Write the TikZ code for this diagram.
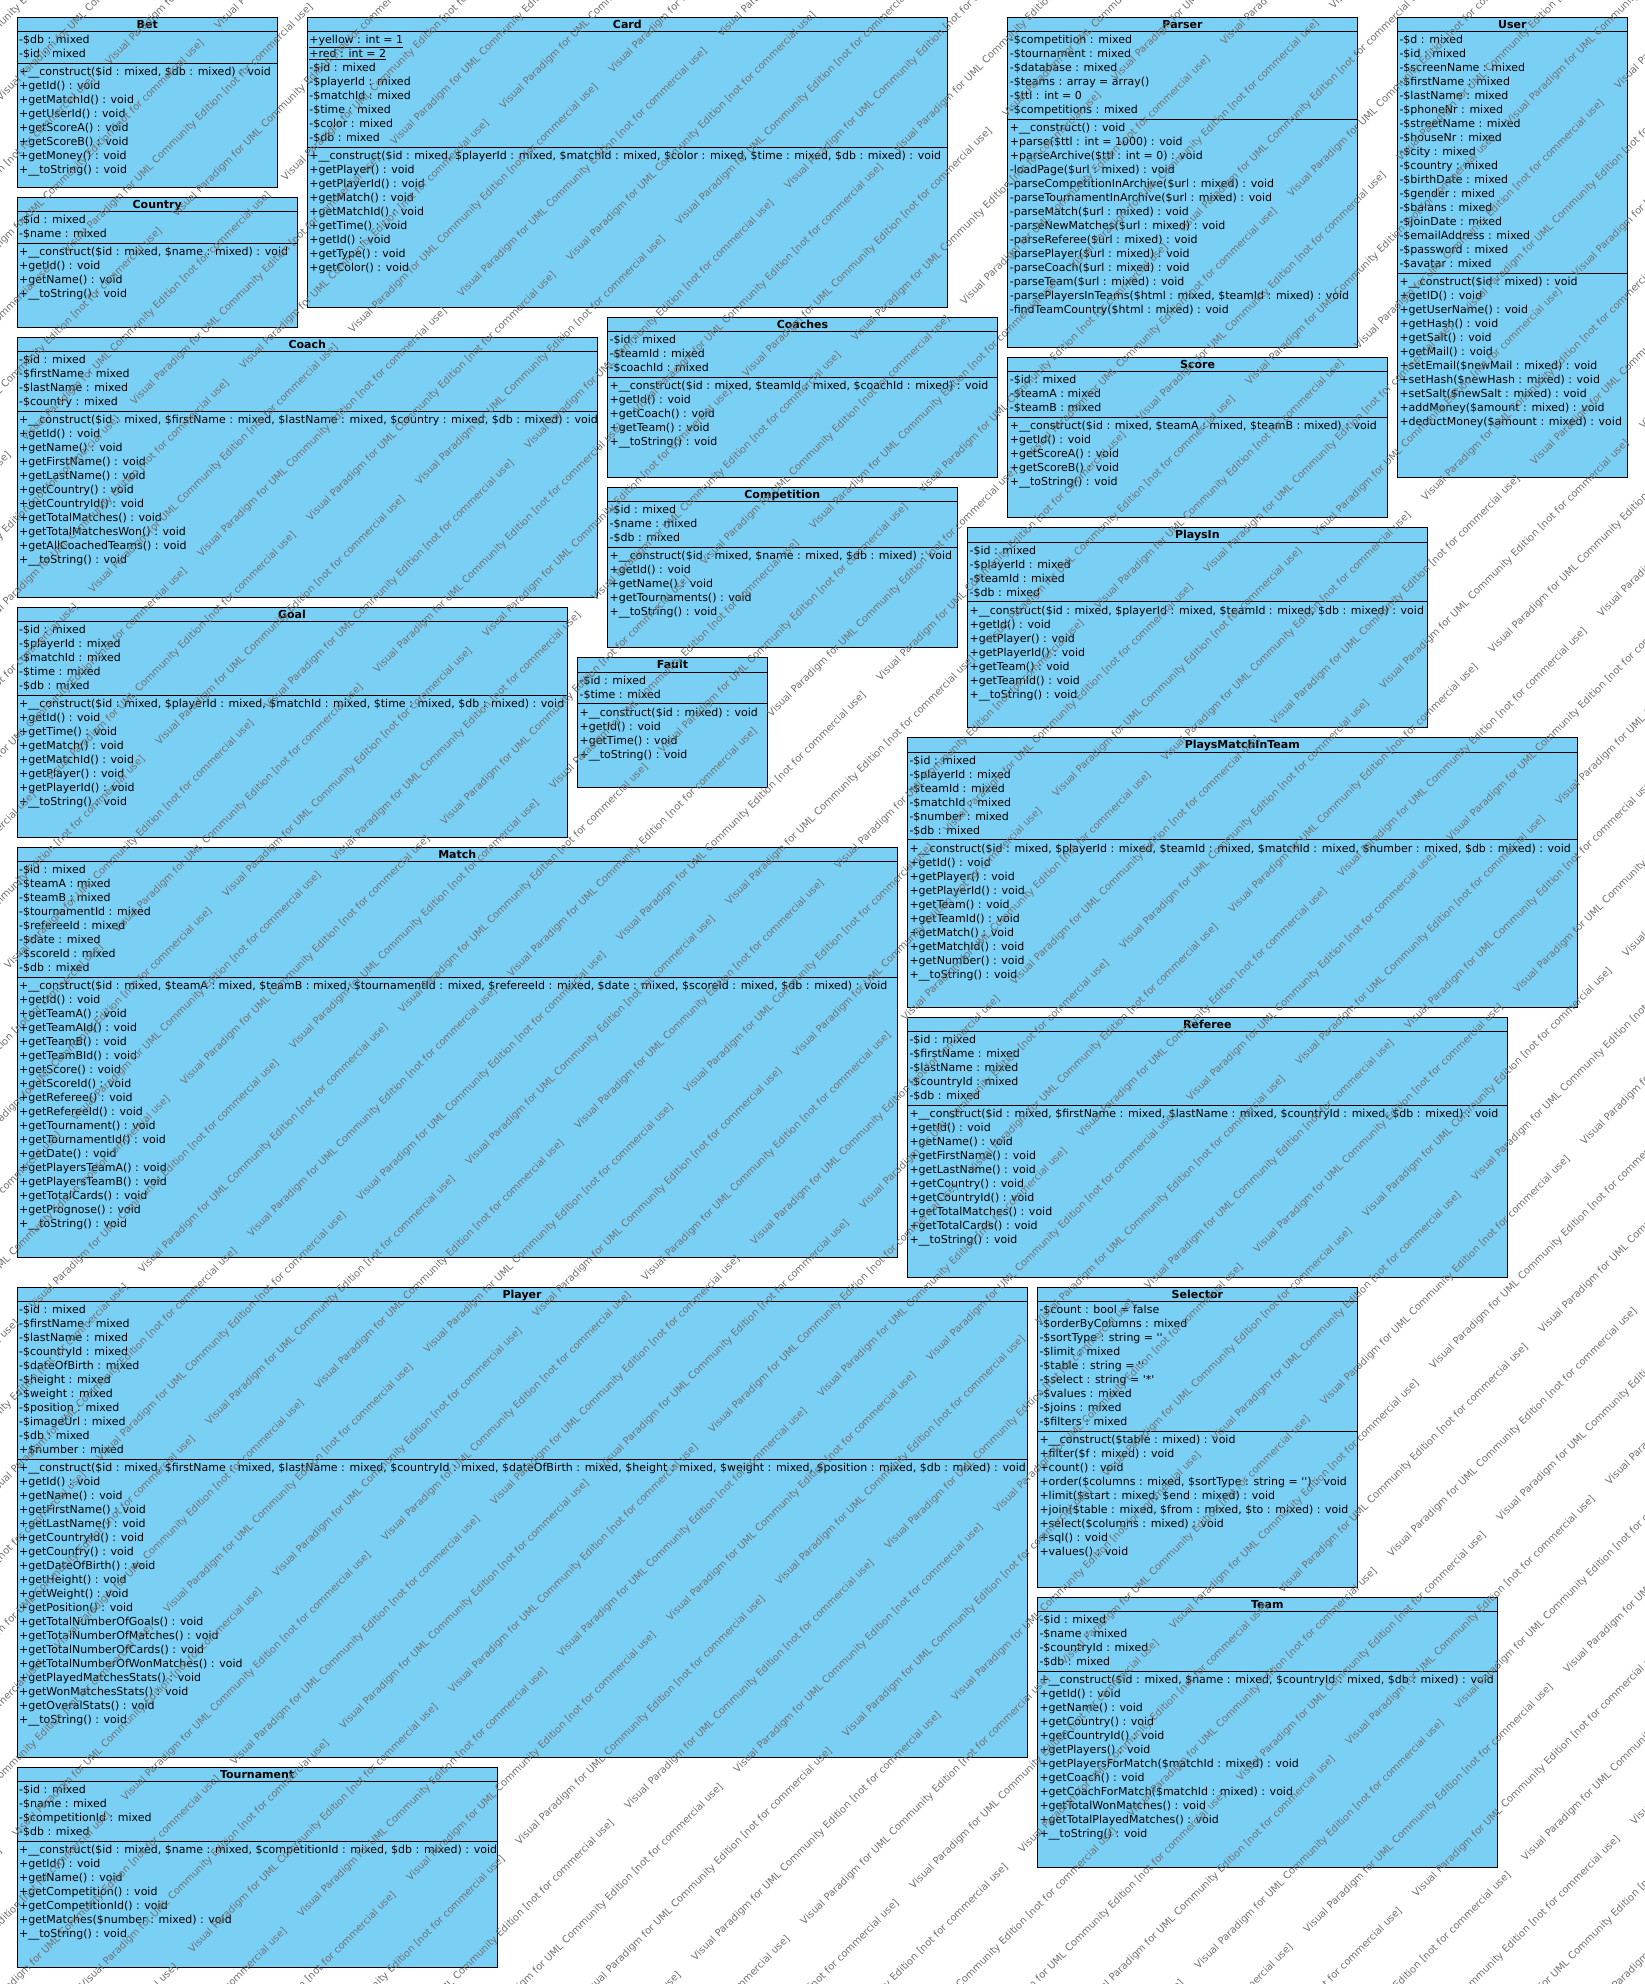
\documentclass[tikz,border=0pt]{standalone}
\usepackage{fontspec}
\setmainfont{DejaVu Sans}
\setmonofont{DejaVu Sans}
\definecolor{vpblue}{RGB}{122,207,245}
\definecolor{wmgray}{RGB}{112,112,112}
\tikzset{
  classbox/.style={draw=black, fill=vpblue, line width=1pt, inner sep=0pt, outer sep=0pt},
  clstitle/.style={font=\fontsize{11}{13}\selectfont\bfseries, inner sep=0pt, anchor=base},
  member/.style={font=\fontsize{11}{13}\selectfont, inner sep=0pt, anchor=base west},
  sepline/.style={draw=black, line width=1pt},
  wm/.style={font=\fontsize{10}{11}\selectfont, text=wmgray, rotate=45, inner sep=0pt}
}
\newcommand\wmtext{Visual Paradigm for UML Community Edition [not for commercial use]}
% #1 name, #2 left, #3 top, #4 right, #5 bottom, #6 number of attributes, #7 attributes, #8 operations
\newcommand\umlclass[8]{%
  \pgfmathsetmacro\ucw{#4-#2}%
  \pgfmathsetmacro\uch{#5-#3}%
  \pgfmathsetmacro\umid{(#2+#4)/2}%
  \pgfmathsetmacro\usy{#3+17.7+14*#6}%
  \node[classbox, anchor=north west, minimum width=\ucw pt, minimum height=\uch pt] (#1) at (#2,#3) {};
  \node[clstitle] (#1-title) at (\umid,#3+11.2) {#1};
  \draw[sepline] (#2,#3+14.4) -- (#4,#3+14.4);
  \draw[sepline] (#2,\usy) -- (#4,\usy);
  \foreach \mtext [count=\i] in {#7} {
    \node[member] (#1-a\i) at (#2+2,#3+12.4+14*\i) {\mtext};
  }
  \foreach \mtext [count=\i] in {#8} {
    \node[member] (#1-o\i) at (#2+2,#3+16.4+14*#6+14*\i) {\mtext};
  }
}
\begin{document}
\begin{tikzpicture}[x=1pt,y=-1pt]
\useasboundingbox (0,0) rectangle (1644,1984);
\fill[white] (0,0) rectangle (1644,1984);

\umlclass{Bet}{17}{17.3}{277.5}{187.3}{2}
{{-\$db : mixed},{-\$id : mixed}}
{{+\_\_construct(\$id : mixed, \$db : mixed) : void},{+getId() : void},{+getMatchId() : void},{+getUserId() : void},{+getScoreA() : void},{+getScoreB() : void},{+getMoney() : void},{+\_\_toString() : void}}

\umlclass{Card}{307.2}{17.3}{947.5}{307}{8}
{{\underline{+yellow : int = 1}},{\underline{+red : int = 2}},{-\$id : mixed},{-\$playerId : mixed},{-\$matchId : mixed},{-\$time : mixed},{-\$color : mixed},{-\$db : mixed}}
{{+\_\_construct(\$id : mixed, \$playerId : mixed, \$matchId : mixed, \$color : mixed, \$time : mixed, \$db : mixed) : void},{+getPlayer() : void},{+getPlayerId() : void},{+getMatch() : void},{+getMatchId() : void},{+getTime() : void},{+getId() : void},{+getType() : void},{+getColor() : void}}

\umlclass{Parser}{1007.6}{17.3}{1357.4}{347}{6}
{{-\$competition : mixed},{-\$tournament : mixed},{-\$database : mixed},{-\$teams : array = array()},{-\$ttl : int = 0},{-\$competitions : mixed}}
{{+\_\_construct() : void},{+parse(\$ttl : int = 1000) : void},{+parseArchive(\$ttl : int = 0) : void},{-loadPage(\$url : mixed) : void},{-parseCompetitionInArchive(\$url : mixed) : void},{-parseTournamentInArchive(\$url : mixed) : void},{-parseMatch(\$url : mixed) : void},{-parseNewMatches(\$url : mixed) : void},{-parseReferee(\$url : mixed) : void},{-parsePlayer(\$url : mixed) : void},{-parseCoach(\$url : mixed) : void},{-parseTeam(\$url : mixed) : void},{-parsePlayersInTeams(\$html : mixed, \$teamId : mixed) : void},{-findTeamCountry(\$html : mixed) : void}}

\umlclass{User}{1397.3}{17.3}{1627.2}{477}{17}
{{-\$d : mixed},{-\$id : mixed},{-\$screenName : mixed},{-\$firstName : mixed},{-\$lastName : mixed},{-\$phoneNr : mixed},{-\$streetName : mixed},{-\$houseNr : mixed},{-\$city : mixed},{-\$country : mixed},{-\$birthDate : mixed},{-\$gender : mixed},{-\$balans : mixed},{-\$joinDate : mixed},{-\$emailAddress : mixed},{-\$password : mixed},{-\$avatar : mixed}}
{{+\_\_construct(\$id : mixed) : void},{+getID() : void},{+getUserName() : void},{+getHash() : void},{+getSalt() : void},{+getMail() : void},{+setEmail(\$newMail : mixed) : void},{+setHash(\$newHash : mixed) : void},{+setSalt(\$newSalt : mixed) : void},{+addMoney(\$amount : mixed) : void},{+deductMoney(\$amount : mixed) : void}}

\umlclass{Country}{17}{197.3}{297.4}{327.3}{2}
{{-\$id : mixed},{-\$name : mixed}}
{{+\_\_construct(\$id : mixed, \$name : mixed) : void},{+getId() : void},{+getName() : void},{+\_\_toString() : void}}

\umlclass{Coach}{17}{337.3}{597.4}{597.3}{4}
{{-\$id : mixed},{-\$firstName : mixed},{-\$lastName : mixed},{-\$country : mixed}}
{{+\_\_construct(\$id : mixed, \$firstName : mixed, \$lastName : mixed, \$country : mixed, \$db : mixed) : void},{+getId() : void},{+getName() : void},{+getFirstName() : void},{+getLastName() : void},{+getCountry() : void},{+getCountryId() : void},{+getTotalMatches() : void},{+getTotalMatchesWon() : void},{+getAllCoachedTeams() : void},{+\_\_toString() : void}}

\umlclass{Coaches}{607.4}{317.3}{997.5}{477}{3}
{{-\$id : mixed},{-\$teamId : mixed},{-\$coachId : mixed}}
{{+\_\_construct(\$id : mixed, \$teamId : mixed, \$coachId : mixed) : void},{+getId() : void},{+getCoach() : void},{+getTeam() : void},{+\_\_toString() : void}}

\umlclass{Competition}{607.4}{487.5}{957.3}{647}{3}
{{-\$id : mixed},{-\$name : mixed},{-\$db : mixed}}
{{+\_\_construct(\$id : mixed, \$name : mixed, \$db : mixed) : void},{+getId() : void},{+getName() : void},{+getTournaments() : void},{+\_\_toString() : void}}

\umlclass{Score}{1007.6}{357.3}{1387.5}{517}{3}
{{-\$id : mixed},{-\$teamA : mixed},{-\$teamB : mixed}}
{{+\_\_construct(\$id : mixed, \$teamA : mixed, \$teamB : mixed) : void},{+getId() : void},{+getScoreA() : void},{+getScoreB() : void},{+\_\_toString() : void}}

\umlclass{PlaysIn}{967.4}{527.7}{1427.3}{727}{4}
{{-\$id : mixed},{-\$playerId : mixed},{-\$teamId : mixed},{-\$db : mixed}}
{{+\_\_construct(\$id : mixed, \$playerId : mixed, \$teamId : mixed, \$db : mixed) : void},{+getId() : void},{+getPlayer() : void},{+getPlayerId() : void},{+getTeam() : void},{+getTeamId() : void},{+\_\_toString() : void}}

\umlclass{Goal}{17}{607.3}{567}{837.3}{5}
{{-\$id : mixed},{-\$playerId : mixed},{-\$matchId : mixed},{-\$time : mixed},{-\$db : mixed}}
{{+\_\_construct(\$id : mixed, \$playerId : mixed, \$matchId : mixed, \$time : mixed, \$db : mixed) : void},{+getId() : void},{+getTime() : void},{+getMatch() : void},{+getMatchId() : void},{+getPlayer() : void},{+getPlayerId() : void},{+\_\_toString() : void}}

\umlclass{Fault}{577.4}{657.7}{767.5}{787.3}{2}
{{-\$id : mixed},{-\$time : mixed}}
{{+\_\_construct(\$id : mixed) : void},{+getId() : void},{+getTime() : void},{+\_\_toString() : void}}

\umlclass{PlaysMatchInTeam}{907.3}{737.7}{1577.3}{1007.3}{6}
{{-\$id : mixed},{-\$playerId : mixed},{-\$teamId : mixed},{-\$matchId : mixed},{-\$number : mixed},{-\$db : mixed}}
{{+\_\_construct(\$id : mixed, \$playerId : mixed, \$teamId : mixed, \$matchId : mixed, \$number : mixed, \$db : mixed) : void},{+getId() : void},{+getPlayer() : void},{+getPlayerId() : void},{+getTeam() : void},{+getTeamId() : void},{+getMatch() : void},{+getMatchId() : void},{+getNumber() : void},{+\_\_toString() : void}}

\umlclass{Match}{17}{847.3}{897.5}{1257.3}{8}
{{-\$id : mixed},{-\$teamA : mixed},{-\$teamB : mixed},{-\$tournamentId : mixed},{-\$refereeId : mixed},{-\$date : mixed},{-\$scoreId : mixed},{-\$db : mixed}}
{{+\_\_construct(\$id : mixed, \$teamA : mixed, \$teamB : mixed, \$tournamentId : mixed, \$refereeId : mixed, \$date : mixed, \$scoreId : mixed, \$db : mixed) : void},{+getId() : void},{+getTeamA() : void},{+getTeamAId() : void},{+getTeamB() : void},{+getTeamBId() : void},{+getScore() : void},{+getScoreId() : void},{+getReferee() : void},{+getRefereeId() : void},{+getTournament() : void},{+getTournamentId() : void},{+getDate() : void},{+getPlayersTeamA() : void},{+getPlayersTeamB() : void},{+getTotalCards() : void},{+getPrognose() : void},{+\_\_toString() : void}}

\umlclass{Referee}{907.3}{1017.3}{1507.4}{1277.3}{5}
{{-\$id : mixed},{-\$firstName : mixed},{-\$lastName : mixed},{-\$countryId : mixed},{-\$db : mixed}}
{{+\_\_construct(\$id : mixed, \$firstName : mixed, \$lastName : mixed, \$countryId : mixed, \$db : mixed) : void},{+getId() : void},{+getName() : void},{+getFirstName() : void},{+getLastName() : void},{+getCountry() : void},{+getCountryId() : void},{+getTotalMatches() : void},{+getTotalCards() : void},{+\_\_toString() : void}}

\umlclass{Player}{17}{1287.3}{1027.2}{1757.3}{11}
{{-\$id : mixed},{-\$firstName : mixed},{-\$lastName : mixed},{-\$countryId : mixed},{-\$dateOfBirth : mixed},{-\$height : mixed},{-\$weight : mixed},{-\$position : mixed},{-\$imageUrl : mixed},{-\$db : mixed},{+\$number : mixed}}
{{+\_\_construct(\$id : mixed, \$firstName : mixed, \$lastName : mixed, \$countryId : mixed, \$dateOfBirth : mixed, \$height : mixed, \$weight : mixed, \$position : mixed, \$db : mixed) : void},{+getId() : void},{+getName() : void},{+getFirstName() : void},{+getLastName() : void},{+getCountryId() : void},{+getCountry() : void},{+getDateOfBirth() : void},{+getHeight() : void},{+getWeight() : void},{+getPosition() : void},{+getTotalNumberOfGoals() : void},{+getTotalNumberOfMatches() : void},{+getTotalNumberOfCards() : void},{+getTotalNumberOfWonMatches() : void},{+getPlayedMatchesStats() : void},{+getWonMatchesStats() : void},{+getOveralStats() : void},{+\_\_toString() : void}}

\umlclass{Selector}{1037.3}{1287.3}{1357.4}{1587}{9}
{{-\$count : bool = false},{-\$orderByColumns : mixed},{-\$sortType : string = \texttt{''}},{-\$limit : mixed},{-\$table : string = \texttt{''}},{-\$select : string = \texttt{'*'}},{-\$values : mixed},{-\$joins : mixed},{-\$filters : mixed}}
{{+\_\_construct(\$table : mixed) : void},{+filter(\$f : mixed) : void},{+count() : void},{+order(\$columns : mixed, \$sortType : string = \texttt{''}) : void},{+limit(\$start : mixed, \$end : mixed) : void},{+join(\$table : mixed, \$from : mixed, \$to : mixed) : void},{+select(\$columns : mixed) : void},{+sql() : void},{+values() : void}}

\umlclass{Team}{1037.3}{1597.3}{1497.2}{1867.3}{4}
{{-\$id : mixed},{-\$name : mixed},{-\$countryId : mixed},{-\$db : mixed}}
{{+\_\_construct(\$id : mixed, \$name : mixed, \$countryId : mixed, \$db : mixed) : void},{+getId() : void},{+getName() : void},{+getCountry() : void},{+getCountryId() : void},{+getPlayers() : void},{+getPlayersForMatch(\$matchId : mixed) : void},{+getCoach() : void},{+getCoachForMatch(\$matchId : mixed) : void},{+getTotalWonMatches() : void},{+getTotalPlayedMatches() : void},{+\_\_toString() : void}}

\umlclass{Tournament}{17}{1767.3}{497.3}{1967.3}{4}
{{-\$id : mixed},{-\$name : mixed},{-\$competitionId : mixed},{-\$db : mixed}}
{{+\_\_construct(\$id : mixed, \$name : mixed, \$competitionId : mixed, \$db : mixed) : void},{+getId() : void},{+getName() : void},{+getCompetition() : void},{+getCompetitionId() : void},{+getMatches(\$number : mixed) : void},{+\_\_toString() : void}}

% watermark
\begin{scope}
\clip (0,0) rectangle (1644,1984);
\foreach \k in {-3,...,52} {
  \foreach \j in {-6,...,5} {
    \pgfmathsetmacro\wmc{73*\k+25}
    \pgfmathsetmacro\wmd{520*\j + mod(145*\k,520)}
    \pgfmathsetmacro\wmx{(\wmc+\wmd)/2}
    \pgfmathsetmacro\wmy{(\wmc-\wmd)/2}
    \pgfmathtruncatemacro\wmok{(\wmx>-250)*(\wmx<1900)*(\wmy>-250)*(\wmy<2240)}
    \ifnum\wmok=1
      \node[wm] (wm-\k-\j) at (\wmx,\wmy) {\wmtext};
    \fi
  }
}
\end{scope}
\end{tikzpicture}
\end{document}
